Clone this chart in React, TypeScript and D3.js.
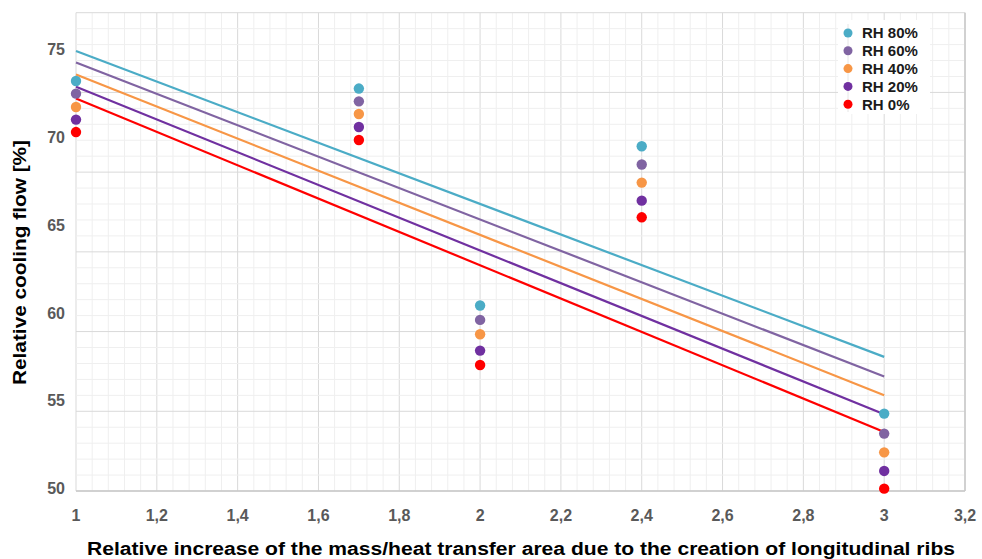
import * as d3 from "d3";

// x positions of the measurements
const ribFactor = [1, 1.7, 2, 2.4, 3];

// relative cooling flow [%] per relative humidity
const rh80 = [73.22, 72.79, 60.42, 69.5, 54.26];
const rh60 = [72.5, 72.06, 59.6, 68.46, 53.12];
const rh40 = [71.74, 71.34, 58.78, 67.43, 52.05];
const rh20 = [71.02, 70.6, 57.85, 66.4, 50.99];
const rh0 = [70.31, 69.86, 57.03, 65.45, 49.98];

const seriesNames = ["RH 80%", "RH 60%", "RH 40%", "RH 20%", "RH 0%"];
const seriesColors = ["#4bacc6", "#8064a2", "#f79646", "#7030a0", "#ff0000"];
const seriesValues = [rh80, rh60, rh40, rh20, rh0];

const xTicks = [1, 1.2, 1.4, 1.6, 1.8, 2, 2.2, 2.4, 2.6, 2.8, 3, 3.2];
const yTicks = [50, 55, 60, 65, 70, 75];

const W = 982;
const H = 559;
const plot = { left: 76, right: 965, top: 12.7, bottom: 491 };

// least squares trend line, as the spreadsheet does
function trend(xs: number[], ys: number[]) {
  const mx = d3.mean(xs)!;
  const my = d3.mean(ys)!;
  const sxy = d3.sum(xs, (x, i) => (x - mx) * (ys[i] - my));
  const sxx = d3.sum(xs, (x) => (x - mx) * (x - mx));
  const slope = sxy / sxx;
  return (x: number) => my + slope * (x - mx);
}

export default function App() {
  const x = d3.scaleLinear().domain([1, 3.2]).range([plot.left, plot.right]);
  const y = d3.scaleLinear().domain([50, 75]).range([488.3, 49.8]);
  // the gridlines do not line up with the value labels in the original
  const gridY = d3.scaleLinear().domain([0, 30]).range([plot.bottom, plot.top]);
  const minorX = d3.range(0, 56).map((i) => 1 + i * 0.04);

  const xFirst = ribFactor[0];
  const xLast = ribFactor[ribFactor.length - 1];

  return (
    <svg width={W} height={H} style={{ position: "absolute", left: 0, top: 0, background: "#fff" }}
      fontFamily="Arial, 'Liberation Sans', sans-serif">
      <rect x={0} y={0} width={W} height={H} fill="#fff" />
      {/* grid */}
      {minorX.map((v, i) => (
        <line key={"mx" + i} x1={x(v)} x2={x(v)} y1={plot.top} y2={plot.bottom}
          stroke={i % 5 === 0 ? "#d9d9d9" : "#efefef"} strokeWidth={1} />
      ))}
      {d3.range(0, 31).map((i) => (
        <line key={"my" + i} x1={plot.left} x2={plot.right} y1={gridY(i)} y2={gridY(i)}
          stroke={i % 5 === 0 ? "#d9d9d9" : "#efefef"} strokeWidth={1} />
      ))}
      <line x1={plot.left} x2={plot.right} y1={plot.bottom} y2={plot.bottom} stroke="#c8c8c8" strokeWidth={1.5} />
      <line x1={plot.right} x2={plot.right} y1={plot.top} y2={plot.bottom} stroke="#c8c8c8" strokeWidth={1.5} />

      {/* trend lines */}
      {seriesValues.map((vals, s) => {
        const f = trend(ribFactor, vals);
        const pts: [number, number][] = [xFirst, xLast].map((v) => [x(v), y(f(v))]);
        return (
          <path key={"t" + s} d={d3.line()(pts)!}
            fill="none" stroke={seriesColors[s]} strokeWidth={2.2} />
        );
      })}

      {/* points */}
      {seriesValues.map((vals, s) =>
        vals.map((v, i) => (
          <circle key={"p" + s + "-" + i} cx={x(ribFactor[i])} cy={y(v)} r={5.2} fill={seriesColors[s]} />
        ))
      )}

      {/* y tick labels */}
      {yTicks.map((t) => (
        <text key={"yt" + t} x={65} y={y(t)} dy="0.35em" textAnchor="end" fontSize={16}
          fontWeight="bold" fill="#595959">{t}</text>
      ))}
      {/* x tick labels */}
      {xTicks.map((t) => (
        <text key={"xt" + t} x={x(t)} y={521} textAnchor="middle" fontSize={16}
          fontWeight="bold" fill="#595959">{String(Math.round(t * 10) / 10).replace(".", ",")}</text>
      ))}

      {/* axis titles */}
      <text x={87} y={555} fontSize={18} fontWeight="bold" fill="#000"
        textLength={868} lengthAdjust="spacingAndGlyphs">
        Relative increase of the mass/heat transfer area due to the creation of longitudinal ribs
      </text>
      <text transform="translate(26,385) rotate(-90)" fontSize={18}
        fontWeight="bold" fill="#000" textLength={245} lengthAdjust="spacingAndGlyphs">Relative cooling flow [%]</text>

      {/* legend */}
      <rect x={838} y={20} width={92} height={94} fill="#fff" />
      <line x1={848} x2={848} y1={24} y2={112} stroke="#e6e6e6" strokeWidth={1} />
      {seriesNames.map((n, i) => (
        <g key={"lg" + i} transform={`translate(848,${33 + i * 17.8})`}>
          <circle r={4.5} fill={seriesColors[i]} />
          <text x={14} dy="0.36em" fontSize={15} fontWeight="bold" fill="#1a1a1a">{n}</text>
        </g>
      ))}
    </svg>
  );
}
